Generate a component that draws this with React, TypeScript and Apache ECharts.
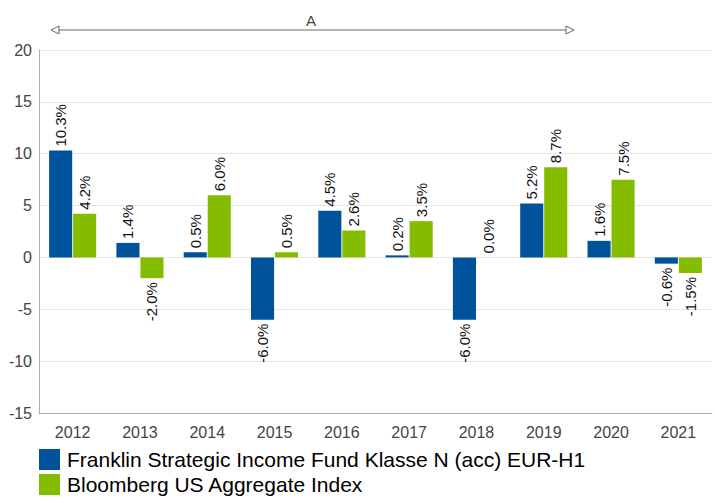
import React, { useEffect, useRef } from "react";
import * as echarts from "echarts";

const categories = ["2012", "2013", "2014", "2015", "2016", "2017", "2018", "2019", "2020", "2021"];
const fundName = "Franklin Strategic Income Fund Klasse N (acc) EUR-H1";
const indexName = "Bloomberg US Aggregate Index";
const fundValues = [10.3, 1.4, 0.5, -6.0, 4.5, 0.2, -6.0, 5.2, 1.6, -0.6];
const indexValues = [4.2, -2.0, 6.0, 0.5, 2.6, 3.5, 0.0, 8.7, 7.5, -1.5];
const annotationText = "A";

const labelFont = "Arial, 'Liberation Sans', sans-serif";

function toData(values: number[]) {
  return values.map((v) => ({
    value: v,
    label:
      v >= 0
        ? { position: "top", align: "left", verticalAlign: "middle", distance: 4 }
        : { position: "bottom", align: "right", verticalAlign: "middle", distance: 4 },
  }));
}

export default function App() {
  const ref = useRef<HTMLDivElement>(null);
  useEffect(() => {
    if (!ref.current) return;
    const chart = echarts.init(ref.current, null, { renderer: "svg" });
    const arrowY = 30;
    const x1 = 51;
    const x2 = 574;
    const barLabel = {
      show: true,
      rotate: 90,
      formatter: (p: any) => p.value.toFixed(1) + "%",
      color: "#111",
      fontSize: 15,
      fontFamily: labelFont,
    };
    chart.setOption({
      animation: false,
      textStyle: { fontFamily: labelFont },
      grid: { left: 39, right: 3, top: 50, bottom: 85, containLabel: false },
      legend: {
        orient: "vertical",
        left: 39,
        top: 449,
        padding: 0,
        itemWidth: 21,
        itemHeight: 21,
        itemGap: 4,
        icon: "rect",
        textStyle: { fontSize: 21, color: "#000", fontFamily: labelFont, padding: [0, 0, 0, 2] },
        data: [fundName, indexName],
      },
      xAxis: {
        type: "category",
        data: categories,
        axisLine: { onZero: false, lineStyle: { color: "#b0b0b0" } },
        axisTick: { show: false },
        axisLabel: { color: "#444", fontSize: 16, margin: 11 },
      },
      yAxis: {
        type: "value",
        min: -15,
        max: 20,
        interval: 5,
        axisLine: { show: true, lineStyle: { color: "#b0b0b0" } },
        axisTick: { show: false },
        axisLabel: { color: "#444", fontSize: 16, margin: 7 },
        splitLine: { lineStyle: { color: "#e6e6e6" } },
      },
      series: [
        {
          name: fundName,
          type: "bar",
          data: toData(fundValues),
          itemStyle: { color: "#00529b" },
          barGap: "4%",
          barCategoryGap: "30%",
          label: barLabel,
        },
        {
          name: indexName,
          type: "bar",
          data: toData(indexValues),
          itemStyle: { color: "#84bd00" },
          barGap: "4%",
          barCategoryGap: "30%",
          label: barLabel,
        },
      ],
      graphic: [
        {
          type: "line",
          shape: { x1: x1 + 8, y1: arrowY, x2: x2 - 8, y2: arrowY },
          style: { stroke: "#666", lineWidth: 1 },
        },
        {
          type: "polygon",
          shape: { points: [[x1, arrowY], [x1 + 8, arrowY - 4], [x1 + 8, arrowY + 4]] },
          style: { fill: "#fff", stroke: "#666", lineWidth: 1 },
        },
        {
          type: "polygon",
          shape: { points: [[x2, arrowY], [x2 - 8, arrowY - 4], [x2 - 8, arrowY + 4]] },
          style: { fill: "#fff", stroke: "#666", lineWidth: 1 },
        },
        {
          type: "text",
          x: 311,
          y: arrowY - 10,
          style: {
            text: annotationText,
            fill: "#444",
            fontSize: 15,
            fontFamily: labelFont,
            textAlign: "center",
            textVerticalAlign: "middle",
          },
        },
      ],
    });
    return () => chart.dispose();
  }, []);
  return <div ref={ref} style={{ width: 715, height: 498, position: "absolute", left: 0, top: 0 }} />;
}
